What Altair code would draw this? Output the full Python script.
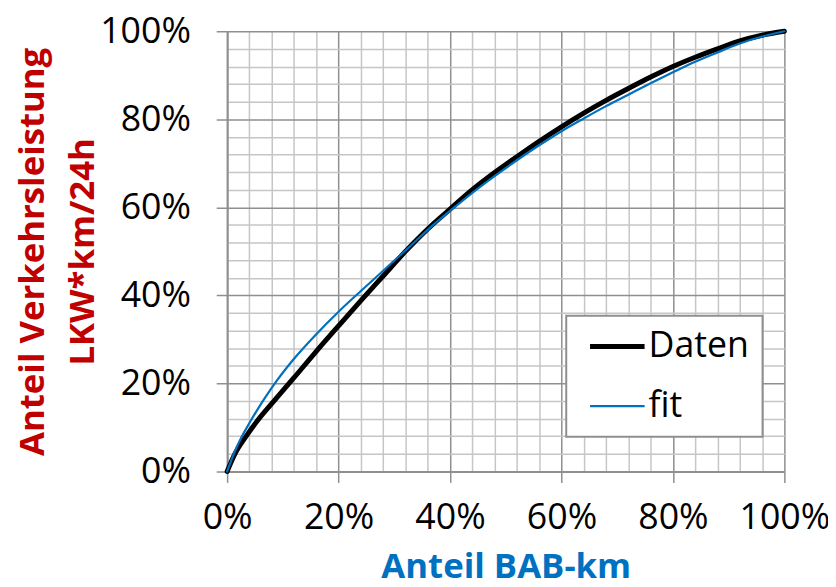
import altair as alt
import pandas as pd

# Daten (black, thick) - values in percent
daten_x = [0, 1.4, 3.3, 5.6, 8, 12, 16, 20, 24, 28, 32, 36, 40, 44, 48, 52, 56, 60,
           64, 68, 72, 76, 80, 84, 88, 92, 96, 100]
daten_y = [0, 4.0, 7.8, 11.8, 15.4, 21.3, 27.3, 33.1, 38.8, 44.4, 50.0, 55.1, 59.6, 64.0, 67.9, 71.5, 75.0, 78.3,
           81.4, 84.3, 87.0, 89.6, 92.0, 94.1, 96.0, 97.8, 99.1, 100]
# fit (blue, thin)
fit_x = [0, 1.2, 2.5, 4, 6, 8, 12, 16, 20, 24, 28, 32, 36, 40, 44, 48, 52, 56, 60,
         64, 68, 72, 76, 80, 84, 88, 92, 96, 100]
fit_y = [0, 4.0, 7.6, 11.0, 15.2, 19.0, 25.6, 31.2, 36.3, 41.0, 45.6, 50.2, 54.9, 59.2, 63.3, 67.1, 70.7, 74.1, 77.3,
         80.2, 83.0, 85.6, 88.2, 90.7, 93.1, 95.2, 97.2, 98.8, 100]

series_names = ["Daten", "fit"]
series_colors = ["#000000", "#0070C0"]
series_widths = [5, 2.2]

grid_ticks = [0, 4, 8, 12, 16, 20, 24, 28, 32, 36, 40, 44, 48, 52, 56, 60,
              64, 68, 72, 76, 80, 84, 88, 92, 96, 100]

rows = []
for x, y in zip(daten_x, daten_y):
    rows.append({"x": x, "y": y, "series": "Daten"})
for x, y in zip(fit_x, fit_y):
    rows.append({"x": x, "y": y, "series": "fit"})
df = pd.DataFrame(rows)

FONT = "Open Sans"
major_test = "datum.value % 20 === 0"
grid_color = {"condition": {"test": major_test, "value": "#8f8f8f"}, "value": "#c6c6c6"}
tick_color = {"condition": {"test": major_test, "value": "#8f8f8f"}, "value": "rgba(0,0,0,0)"}
label_expr = "datum.value % 20 === 0 ? datum.value + '%' : ''"

common_axis = dict(
    values=grid_ticks,
    labelExpr=label_expr,
    gridColor=grid_color,
    gridWidth=1.5,
    tickColor=tick_color,
    tickWidth=1.5,
    tickSize=11,
    labelFont=FONT,
    labelFontSize=36,
    labelColor="#000000",
    labelOverlap=False,
    labelFlush=False,
    domainColor="#8f8f8f",
    domainWidth=2,
)

x_axis = alt.Axis(
    title="Anteil BAB-km",
    titleFont=FONT,
    titleFontSize=35,
    titleFontWeight="bold",
    titleColor="#0070C0",
    titlePadding=15,
    labelPadding=18,
    **common_axis,
)
y_axis = alt.Axis(
    title=["Anteil Verkehrsleistung", "LKW*km/24h"],
    titleFont=FONT,
    titleFontSize=35,
    titleFontWeight="bold",
    titleColor="#C00000",
    titleLineHeight=50,
    titleBaseline="bottom",
    titleX=-178,
    titleY=222,
    labelPadding=26,
    **common_axis,
)

legend = alt.Legend(
    title=None,
    orient="none",
    legendX=342,
    legendY=287,
    symbolType="M-0.5,0H3.43",
    symbolSize=784,
    labelFont=FONT,
    labelFontSize=36,
    labelColor="#000000",
    labelOffset=34,
    padding=13,
    rowPadding=24,
    strokeColor="#8f8f8f",
    fillColor="#ffffff",
)

chart = (
    alt.Chart(df)
    .mark_line(interpolate="monotone", strokeCap="round", strokeJoin="round")
    .encode(
        x=alt.X("x:Q", scale=alt.Scale(domain=[0, 100], nice=False), axis=x_axis),
        y=alt.Y("y:Q", scale=alt.Scale(domain=[0, 100], nice=False), axis=y_axis),
        color=alt.Color("series:N", scale=alt.Scale(domain=series_names, range=series_colors), legend=legend),
        strokeWidth=alt.StrokeWidth("series:N", scale=alt.Scale(domain=series_names, range=series_widths), legend=legend),
        detail="series:N",
    )
    .properties(
        width=562,
        height=444,
        autosize=alt.AutoSizeParams(type="none"),
        padding={"left": 221, "top": 21, "right": 44, "bottom": 112},
    )
    .configure_view(stroke=None)
    .configure_legend(strokeWidth=2)
)

chart.save("out.html", embed_options={"renderer": "svg", "actions": False})
